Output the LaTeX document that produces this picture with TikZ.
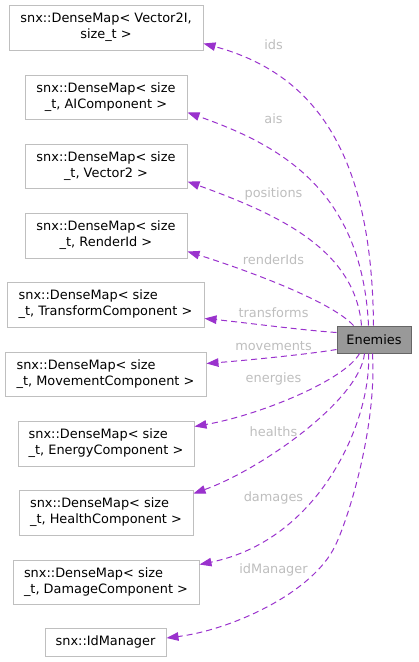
\documentclass[tikz,border=0pt]{standalone}
\usepackage{fontspec}
\setmainfont{DejaVu Sans}
\usetikzlibrary{arrows.meta,calc}
\definecolor{boxline}{HTML}{BFBFBF}
\definecolor{edgecol}{HTML}{9A32CD}
\definecolor{lblcol}{HTML}{BEBEBE}
\definecolor{mainfill}{HTML}{999999}
\definecolor{mainline}{HTML}{666666}
\begin{document}
\begin{tikzpicture}[x=1pt,y=-1pt,
  txt/.style={font=\fontsize{12.9pt}{16pt}\selectfont},
  cls/.style={txt, draw=boxline, line width=1pt, inner sep=0pt, text=black},
  mainbox/.style={txt, draw=mainline, fill=mainfill, line width=1pt, inner sep=0pt, text=black},
  member/.style={draw=edgecol, line width=1pt, dash pattern=on 6pt off 4pt,
    -{Triangle[length=12pt,width=8.5pt]}},
  lbl/.style={txt, text=lblcol, anchor=base, inner sep=0pt}]
\useasboundingbox (0,0) rectangle (419,662);

% class boxes
\node[cls, minimum width=194pt, minimum height=45pt, align=center] (t1) at (106,27.5) {snx::DenseMap< Vector2I,\\size\_t >};
\node[cls, minimum width=162pt, minimum height=44pt, align=center] (t2) at (106,97) {snx::DenseMap< size\\\_t, AIComponent >};
\node[cls, minimum width=162pt, minimum height=44pt, align=center] (t3) at (106,166) {snx::DenseMap< size\\\_t, Vector2 >};
\node[cls, minimum width=162pt, minimum height=45pt, align=center] (t4) at (106,235.5) {snx::DenseMap< size\\\_t, RenderId >};
\node[cls, minimum width=197pt, minimum height=45pt, align=left] (t5) at (105.5,304.5) {snx::DenseMap< size\\\_t, TransformComponent >};
\node[cls, minimum width=201pt, minimum height=44pt, align=left] (t6) at (105.5,374) {snx::DenseMap< size\\\_t, MovementComponent >};
\node[cls, minimum width=176pt, minimum height=45pt, align=left] (t7) at (106,443.5) {snx::DenseMap< size\\\_t, EnergyComponent >};
\node[cls, minimum width=174pt, minimum height=45pt, align=left] (t8) at (106,512.5) {snx::DenseMap< size\\\_t, HealthComponent >};
\node[cls, minimum width=186pt, minimum height=44pt, align=left] (t9) at (106,582) {snx::DenseMap< size\\\_t, DamageComponent >};
\node[cls, minimum width=121pt, minimum height=28pt] (t10) at (105.5,642) {snx::IdManager};

% main class
\node[mainbox, minimum width=74pt, minimum height=27pt] (en) at (374,339.5) {Enemies};

% connectors
\draw[member] ($(en.north west)+(37,0)$) .. controls (372,160) and (320,75) .. ($(t1.south east)+(0,-7)$);
\draw[member] ($(en.north west)+(32,0)$) .. controls (362,190) and (280,145) .. ($(t2.south east)+(0,-7)$);
\draw[member] ($(en.north west)+(25,0)$) .. controls (355,250) and (280,215) .. ($(t3.south east)+(0,-7)$);
\draw[member] ($(en.north west)+(17,0)$) .. controls (330,300) and (240,268) .. ($(t4.south east)+(0,-7)$);
\draw[member] ($(en.north west)+(0,7)$) .. controls (300,330) and (240,322) .. ($(t5.south east)+(0,-9)$);
\draw[member] ($(en.south west)+(0,-4)$) .. controls (310,354) and (250,360) .. ($(t6.north east)+(0,12)$);
\draw[member] ($(en.south west)+(23,0)$) .. controls (345,380) and (260,415) .. ($(t7.north east)+(0,6)$);
\draw[member] ($(en.south west)+(28,0)$) .. controls (360,400) and (260,470) .. ($(t8.north east)+(0,4)$);
\draw[member] ($(en.south west)+(32,0)$) .. controls (372,420) and (320,540) .. ($(t9.north east)+(0,5)$);
\coordinate (bend) at (333,550);
\draw[member] ($(en.south west)+(36,0)$) .. controls (377,430) and (346,527) .. (bend)
  .. controls (308,595) and (230,630) .. ($(t10.east)+(0,-4)$);

% edge labels
\node[lbl] (l1) at (273.5,49.5) {ids};
\node[lbl] (l2) at (273.5,123.5) {ais};
\node[lbl] (l3) at (273.5,197.5) {positions};
\node[lbl] (l4) at (273.5,264.5) {renderIds};
\node[lbl] (l5) at (273.5,317.5) {transforms};
\node[lbl] (l6) at (273.5,350.5) {movements};
\node[lbl] (l7) at (273.5,382.5) {energies};
\node[lbl] (l8) at (273.5,436.5) {healths};
\node[lbl] (l9) at (273.5,501.5) {damages};
\node[lbl] (l10) at (273.5,573.5) {idManager};
\end{tikzpicture}
\end{document}
